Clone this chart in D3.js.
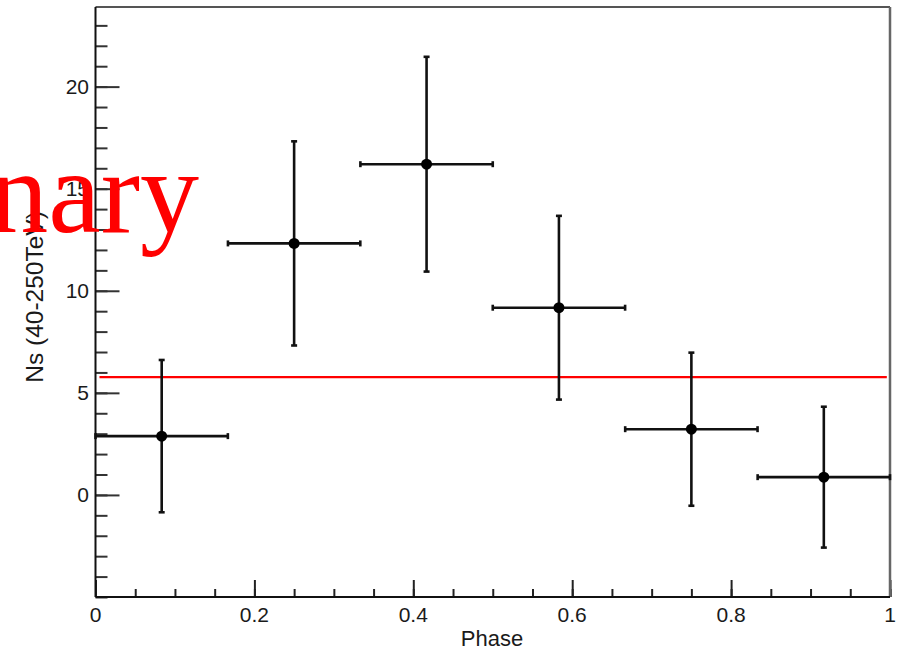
<!DOCTYPE html>
<html>
<head>
<meta charset="utf-8">
<script src="https://cdn.jsdelivr.net/npm/d3@7"></script>
<style>
  html, body { margin: 0; padding: 0; background: #fff; overflow: hidden; }
  svg { display: block; }
</style>
</head>
<body>
<svg id="chart" width="902" height="651"></svg>
<script>
// Phase-binned signal counts with statistical errors
const phase = [0.0833, 0.25, 0.4167, 0.5833, 0.75, 0.9167];
const phaseHalfWidth = [0.0833, 0.0833, 0.0833, 0.0833, 0.0833, 0.0833];
const ns = [2.88, 12.32, 16.2, 9.17, 3.22, 0.87];
const nsErr = [3.73, 5.0, 5.26, 4.5, 3.75, 3.45];
const averageNs = 5.77;
const averageSpan = [0.005, 0.996];

const xTickValues = [0, 0.2, 0.4, 0.6, 0.8, 1];
const xTickLabels = ["0", "0.2", "0.4", "0.6", "0.8", "1"];
const yTickValues = [0, 5, 10, 15, 20];
const yTickLabels = ["0", "5", "10", "15", "20"];

const svg = d3.select("#chart");
const frame = { left: 95.5, right: 890, top: 7, bottom: 597 };

const x = d3.scaleLinear().domain([0, 1]).range([frame.left, frame.right]);
const y = d3.scaleLinear().domain([-5, 23.9]).range([frame.bottom, frame.top]);

const font = "'Liberation Sans', Arial, sans-serif";

// minor ticks
const xMinor = d3.range(0, 1.0001, 0.05);
const yMinor = d3.range(-5, 23.5, 1);

const gx = svg.append("g").attr("transform", `translate(0,${frame.bottom})`);
gx.call(d3.axisBottom(x).tickValues(xMinor).tickSize(-8).tickFormat(""));
gx.append("g").call(d3.axisBottom(x).tickValues(xTickValues).tickSize(-17).tickFormat(""));
gx.selectAll(".domain").remove();
gx.selectAll("line").attr("stroke", "#222").attr("stroke-width", 2);

const gy = svg.append("g").attr("transform", `translate(${frame.left},0)`);
gy.call(d3.axisLeft(y).tickValues(yMinor).tickSize(-12).tickFormat(""));
gy.append("g").call(d3.axisLeft(y).tickValues(yTickValues).tickSize(-24).tickFormat(""));
gy.selectAll(".domain").remove();
gy.selectAll("line").attr("stroke", "#333").attr("stroke-width", 2);

// tick labels
svg.append("g").selectAll("text").data(xTickValues).join("text")
  .attr("x", d => x(d)).attr("y", 622)
  .attr("text-anchor", "middle")
  .attr("font-family", font).attr("font-size", 21).attr("fill", "#1a1a1a")
  .text((d, i) => xTickLabels[i]);

svg.append("g").selectAll("text").data(yTickValues).join("text")
  .attr("x", 89).attr("y", d => y(d)).attr("dy", "0.36em")
  .attr("text-anchor", "end")
  .attr("font-family", font).attr("font-size", 21).attr("fill", "#1a1a1a")
  .text((d, i) => yTickLabels[i]);

// frame
svg.append("line").attr("x1", frame.left).attr("x2", frame.right).attr("y1", frame.top).attr("y2", frame.top)
  .attr("stroke", "#555").attr("stroke-width", 2);
svg.append("line").attr("x1", frame.right).attr("x2", frame.right).attr("y1", frame.top).attr("y2", frame.bottom)
  .attr("stroke", "#666").attr("stroke-width", 2.5);
svg.append("line").attr("x1", frame.left).attr("x2", frame.right).attr("y1", frame.bottom).attr("y2", frame.bottom)
  .attr("stroke", "#111").attr("stroke-width", 2);
svg.append("line").attr("x1", frame.left).attr("x2", frame.left).attr("y1", frame.top).attr("y2", frame.bottom)
  .attr("stroke", "#111").attr("stroke-width", 2);

// axis titles
svg.append("text").attr("x", 492).attr("y", 646).attr("text-anchor", "middle")
  .attr("font-family", font).attr("font-size", 22).attr("fill", "#1a1a1a").text("Phase");
svg.append("text").attr("transform", "translate(43,297) rotate(-90)").attr("text-anchor", "middle")
  .attr("font-family", font).attr("font-size", 24.5).attr("fill", "#1a1a1a").text("Ns (40-250TeV)");

// average level
svg.append("line")
  .attr("x1", x(averageSpan[0])).attr("x2", x(averageSpan[1]))
  .attr("y1", y(averageNs)).attr("y2", y(averageNs))
  .attr("stroke", "#ff0000").attr("stroke-width", 2.2);

// error bars and markers
const pts = phase.map((p, i) => ({ p, hw: phaseHalfWidth[i], v: ns[i], e: nsErr[i] }));
const g = svg.append("g").attr("stroke", "#111").attr("stroke-width", 2.6);
const cap = 3;
pts.forEach(d => {
  g.append("line").attr("x1", x(d.p - d.hw)).attr("x2", x(d.p + d.hw)).attr("y1", y(d.v)).attr("y2", y(d.v));
  g.append("line").attr("x1", x(d.p)).attr("x2", x(d.p)).attr("y1", y(d.v - d.e)).attr("y2", y(d.v + d.e));
  // end caps
  g.append("line").attr("x1", x(d.p - d.hw)).attr("x2", x(d.p - d.hw)).attr("y1", y(d.v) - cap).attr("y2", y(d.v) + cap);
  g.append("line").attr("x1", x(d.p + d.hw)).attr("x2", x(d.p + d.hw)).attr("y1", y(d.v) - cap).attr("y2", y(d.v) + cap);
  g.append("line").attr("x1", x(d.p) - cap).attr("x2", x(d.p) + cap).attr("y1", y(d.v - d.e)).attr("y2", y(d.v - d.e));
  g.append("line").attr("x1", x(d.p) - cap).attr("x2", x(d.p) + cap).attr("y1", y(d.v + d.e)).attr("y2", y(d.v + d.e));
});
svg.append("g").selectAll("circle").data(pts).join("circle")
  .attr("cx", d => x(d.p)).attr("cy", d => y(d.v)).attr("r", 5.5).attr("fill", "#000");

// watermark
svg.append("text").attr("x", 199).attr("y", 232).attr("text-anchor", "end")
  .attr("font-family", "'Liberation Serif', 'Times New Roman', serif")
  .attr("font-size", 118).attr("fill", "#ff0000").text("Preliminary");
</script>
</body>
</html>
